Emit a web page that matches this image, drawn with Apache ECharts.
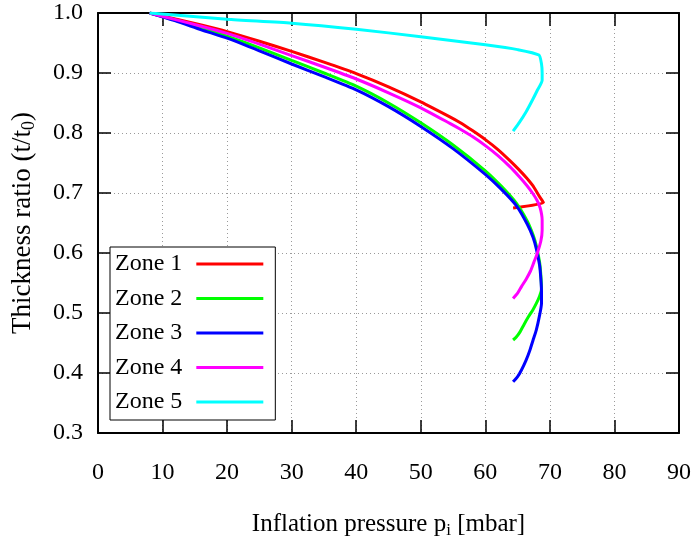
<!DOCTYPE html>
<html>
<head>
<meta charset="utf-8">
<script src="https://cdn.jsdelivr.net/npm/echarts@6/dist/echarts.min.js"></script>
<style>
  html, body { margin: 0; padding: 0; background: #fff; }
  #chart { width: 698px; height: 538px; }
</style>
</head>
<body>
<div id="chart"></div>
<script>
// Thickness ratio t/t0 versus inflation pressure p_i [mbar], one curve per zone
const zoneNames = ['Zone 1', 'Zone 2', 'Zone 3', 'Zone 4', 'Zone 5'];
const zoneColors = ['#ff0000', '#00ff00', '#0000ff', '#ff00ff', '#00ffff'];

const zone1 = [[8, 1.0], [12, 0.99], [16, 0.98], [20, 0.969], [25, 0.953], [30, 0.936],
  [35, 0.918], [40, 0.899], [45, 0.877], [50, 0.852], [54.5, 0.827], [56, 0.818],
  [58, 0.804], [60, 0.789], [62, 0.772], [63.8, 0.754], [65.2, 0.739], [66.4, 0.725],
  [67.3, 0.713], [67.9, 0.703], [68.4, 0.694], [69.0, 0.684], [64.3, 0.675]];
const zone2 = [[8, 1.0], [12, 0.988], [16, 0.975], [20, 0.9615], [25, 0.942], [30, 0.921],
  [35, 0.90], [40, 0.878], [45, 0.85], [50, 0.817], [55, 0.78], [60, 0.737],
  [62.5, 0.711], [64.8, 0.683], [66.5, 0.653], [67.4, 0.63], [67.9, 0.612], [68.4, 0.585],
  [68.6, 0.563], [68.7, 0.54], [68.4, 0.528], [67.9, 0.516], [67.4, 0.506],
  [66.7, 0.494], [66.0, 0.481], [65.4, 0.469], [64.8, 0.46], [64.3, 0.455]];
const zone3 = [[8, 1.0], [12, 0.987], [16, 0.972], [20, 0.958], [25, 0.937], [30, 0.915],
  [35, 0.894], [40, 0.872], [45, 0.844], [50, 0.811], [55, 0.774], [60, 0.731],
  [62.5, 0.706], [64.8, 0.679], [66.5, 0.648], [67.4, 0.626], [67.9, 0.607], [68.4, 0.58],
  [68.6, 0.557], [68.7, 0.535], [68.7, 0.516], [68.4, 0.496], [67.9, 0.472],
  [67.4, 0.455], [66.9, 0.438], [66.3, 0.421], [65.6, 0.405], [65.0, 0.394], [64.3, 0.3855]];
const zone4 = [[8, 1.0], [12, 0.989], [16, 0.978], [20, 0.966], [25, 0.948], [30, 0.929],
  [35, 0.91], [40, 0.89], [45, 0.867], [50, 0.842], [54.5, 0.816], [56, 0.807],
  [58, 0.794], [60, 0.779], [62, 0.762], [63.8, 0.744], [65.2, 0.728], [66.4, 0.713],
  [67.3, 0.70], [68.0, 0.688], [68.5, 0.675], [68.8, 0.655], [68.8, 0.638], [68.6, 0.62],
  [68.0, 0.598], [67.5, 0.584], [67.0, 0.57], [66.3, 0.556], [65.6, 0.544], [65.0, 0.533],
  [64.3, 0.524]];
const zone5 = [[8, 1.0], [20, 0.9895], [30, 0.983], [40, 0.973], [50, 0.9605], [60, 0.947],
  [65, 0.939], [68.3, 0.930], [68.7, 0.915], [68.8, 0.90], [68.8, 0.888], [68.0, 0.87],
  [67.3, 0.855], [66.3, 0.835], [65.3, 0.818], [64.3, 0.803]];
const zoneData = [zone1, zone2, zone3, zone4, zone5];

const xRange = { min: 0, max: 90, interval: 10 };
const yRange = { min: 0.3, max: 1.0, interval: 0.1 };

const FONT = '"Liberation Serif", "DejaVu Serif", serif';

const chart = echarts.init(document.getElementById('chart'), null, { renderer: 'canvas' });

const tickStyle = { show: true, inside: true, length: 13, lineStyle: { color: '#000', width: 1.5 } };
const lineStyle = { show: true, onZero: false, lineStyle: { color: '#000', width: 2 } };
const gridStyle = { show: true, lineStyle: { color: '#9a9a9a', width: 1, type: [1, 3] } };

function titleRich(size) {
  return {
    m: { fontFamily: FONT, fontSize: size, lineHeight: size + 2, verticalAlign: 'top', color: '#000' },
    s: { fontFamily: FONT, fontSize: Math.round(size * 0.68), lineHeight: Math.round(size * 0.68),
         verticalAlign: 'bottom', padding: [Math.round(size * 0.55), 0, 0, 0], color: '#000' }
  };
}

const option = {
  backgroundColor: '#fff',
  animation: false,
  grid: { left: 98, right: 19, top: 13, bottom: 105, containLabel: false, outerBoundsMode: 'none' },
  xAxis: [
    {
      type: 'value', position: 'bottom', ...xRange,
      axisLine: lineStyle, axisTick: tickStyle, splitLine: gridStyle,
      axisLabel: { fontFamily: FONT, fontSize: 24, color: '#000', margin: 28 },
      name: '{m|Inflation pressure p}{s|i}{m| [mbar]}',
      nameLocation: 'middle', nameGap: 79,
      nameTextStyle: { fontFamily: FONT, color: '#000', rich: titleRich(25) }
    },
    {
      type: 'value', position: 'top', ...xRange,
      axisLine: lineStyle, axisTick: tickStyle, axisLabel: { show: false }, splitLine: { show: false }
    }
  ],
  yAxis: [
    {
      type: 'value', position: 'left', ...yRange,
      axisLine: lineStyle, axisTick: tickStyle, splitLine: gridStyle,
      axisLabel: { fontFamily: FONT, fontSize: 24, color: '#000', margin: 15, formatter: v => v.toFixed(1) },
      name: '{m|Thickness ratio (t/t}{s|0}{m|)}',
      nameLocation: 'middle', nameGap: 60, nameRotate: 90,
      nameTextStyle: { fontFamily: FONT, color: '#000', rich: titleRich(27) }
    },
    {
      type: 'value', position: 'right', ...yRange,
      axisLine: lineStyle, axisTick: tickStyle, axisLabel: { show: false }, splitLine: { show: false }
    }
  ],
  legend: {
    orient: 'vertical', left: 110, top: 247, align: 'right',
    backgroundColor: '#fff', borderColor: '#000', borderWidth: 1, borderRadius: 0,
    padding: [5, 12, 6, 5], itemGap: 10.5, itemWidth: 67, itemHeight: 3, icon: 'rect',
    textStyle: { fontFamily: FONT, fontSize: 24, color: '#000', lineHeight: 24, padding: [0, 9, 0, 0] },
    data: zoneNames
  },
  series: zoneNames.map((name, i) => ({
    name, type: 'line', data: zoneData[i],
    xAxisIndex: 0, yAxisIndex: 0,
    showSymbol: false, symbol: 'none', smooth: 0.2,
    lineStyle: { color: zoneColors[i], width: 3 },
    itemStyle: { color: zoneColors[i] },
    z: 3 + i
  }))
};

chart.setOption(option);
</script>
</body>
</html>
